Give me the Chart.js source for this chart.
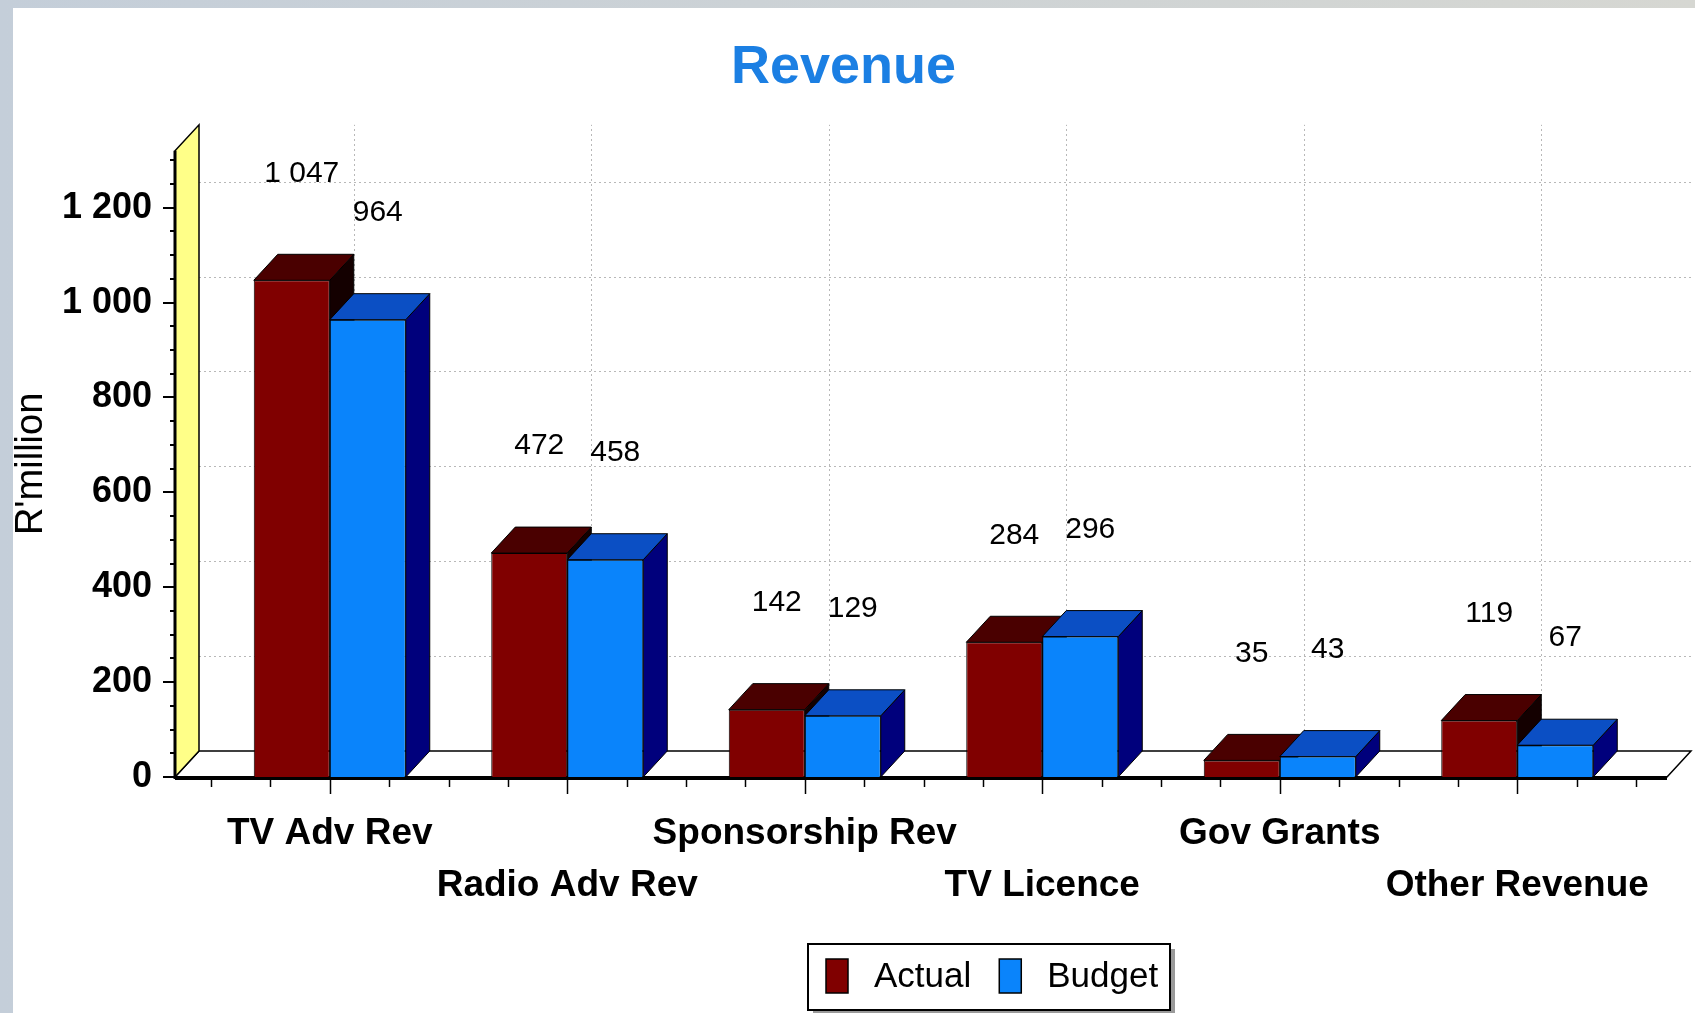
<!DOCTYPE html>
<html>
<head>
<meta charset="utf-8">
<script src="https://cdn.jsdelivr.net/npm/chart.js@4"></script>
<style>
  html, body { margin: 0; padding: 0; width: 1695px; height: 1013px; overflow: hidden; }
  body { background: linear-gradient(to right, #c4ced9, #d6d7d2); }
  #wrap { position: absolute; left: 13px; top: 8px; width: 1682px; height: 1005px; background: #fff; }
</style>
</head>
<body>
<div id="wrap"><canvas id="myChart"></canvas></div>
<script>
// data
const categories = ['TV Adv Rev', 'Radio Adv Rev', 'Sponsorship Rev', 'TV Licence', 'Gov Grants', 'Other Revenue'];
const seriesNames = ['Actual', 'Budget'];
const actual = [1047, 472, 142, 284, 35, 119];
const budget = [964, 458, 129, 296, 43, 67];
const yTicks = [0, 200, 400, 600, 800, 1000, 1200];

const FONT = "'Liberation Sans', Arial, sans-serif";
const DX = 24, DY = 26; // depth of the 3D look

// front, top, side colours per series
const faces = [
    { front: '#800000', top: '#4a0000', side: '#140000' },
    { front: '#0a84fb', top: '#0b4fc4', side: '#00007c' }
];

function fmt(v) {
    return String(v).replace(/\B(?=(\d{3})+(?!\d))/g, ' ');
}

function poly(ctx, pts, fill) {
    ctx.beginPath();
    ctx.moveTo(pts[0][0], pts[0][1]);
    for (let i = 1; i < pts.length; i++) ctx.lineTo(pts[i][0], pts[i][1]);
    ctx.closePath();
    ctx.fillStyle = fill;
    ctx.fill();
    ctx.stroke();
}

const box3d = {
    id: 'box3d',
    beforeDatasetsDraw(chart) {
        const ctx = chart.ctx;
        const xs = chart.scales.x, ys = chart.scales.y;
        const area = chart.chartArea;
        const y0 = ys.getPixelForValue(0);
        const yTop = ys.top;
        const left = area.left - 36;   // front edge of the walls
        const right = area.right + 31;
        ctx.save();

        // dotted grid on the back
        ctx.strokeStyle = '#b8b8b8';
        ctx.lineWidth = 1;
        ctx.setLineDash([2, 3]);
        yTicks.forEach(v => {
            if (v === 0) return;
            const py = Math.round(ys.getPixelForValue(v) - DY) + 0.5;
            ctx.beginPath();
            ctx.moveTo(left + DX, py);
            ctx.lineTo(right + DX, py);
            ctx.stroke();
        });
        categories.forEach((c, i) => {
            const px = Math.round(xs.getPixelForValue(i) + DX) + 0.5;
            ctx.beginPath();
            ctx.moveTo(px, y0 - DY);
            ctx.lineTo(px, yTop - DY);
            ctx.stroke();
        });
        ctx.setLineDash([]);

        // floor
        ctx.strokeStyle = '#000';
        ctx.lineWidth = 1.5;
        poly(ctx, [[left, y0], [right, y0], [right + DX, y0 - DY], [left + DX, y0 - DY]], '#fff');
        // left wall
        poly(ctx, [[left, y0], [left + DX, y0 - DY], [left + DX, yTop - DY], [left, yTop]], '#ffff88');

        // thick axis lines
        ctx.lineWidth = 4;
        ctx.beginPath();
        ctx.moveTo(left, y0 + 1);
        ctx.lineTo(right, y0 + 1);
        ctx.stroke();
        ctx.lineWidth = 3;
        ctx.beginPath();
        ctx.moveTo(left, yTop);
        ctx.lineTo(left, y0 + 2);
        ctx.stroke();

        // y tick marks, minor every 50
        ctx.lineWidth = 2;
        for (let v = 0; v <= ys.max; v += 50) {
            const py = Math.round(ys.getPixelForValue(v));
            const len = v % 200 === 0 ? 12 : 5;
            ctx.beginPath();
            ctx.moveTo(left - len, py);
            ctx.lineTo(left, py);
            ctx.stroke();
        }

        // x tick marks, quarter steps, long at the category centres
        const step = (xs.getPixelForValue(1) - xs.getPixelForValue(0)) / 4;
        ctx.lineWidth = 1.5;
        for (let k = -2; k <= categories.length * 4 - 2; k++) {
            const px = Math.round(xs.getPixelForValue(0) + k * step) + 0.5;
            const len = k % 4 === 0 ? 14 : 7;
            ctx.beginPath();
            ctx.moveTo(px, y0 + 3);
            ctx.lineTo(px, y0 + 3 + len);
            ctx.stroke();
        }

        // top and side faces, left bar before right bar
        ctx.lineWidth = 1;
        for (let i = 0; i < categories.length; i++) {
            chart.data.datasets.forEach((ds, d) => {
                const bar = chart.getDatasetMeta(d).data[i];
                const f = faces[d];
                const l = bar.x - bar.width / 2, r = bar.x + bar.width / 2;
                poly(ctx, [[r, bar.y], [r + DX, bar.y - DY], [r + DX, bar.base - DY], [r, bar.base]], f.side);
                poly(ctx, [[l, bar.y], [r, bar.y], [r + DX, bar.y - DY], [l + DX, bar.y - DY]], f.top);
            });
        }
        ctx.restore();
    },
    afterDatasetsDraw(chart) {
        const ctx = chart.ctx;
        ctx.save();
        // value labels
        ctx.fillStyle = '#000';
        ctx.font = '30px ' + FONT;
        ctx.textAlign = 'center';
        ctx.textBaseline = 'middle';
        chart.data.datasets.forEach((ds, d) => {
            chart.getDatasetMeta(d).data.forEach((bar, i) => {
                ctx.fillText(fmt(ds.data[i]), bar.x + 10, bar.y - 107);
            });
        });

        // legend box
        const bx = 795, by = 936, bw = 362, bh = 66;
        ctx.fillStyle = '#9a9a9a';
        ctx.fillRect(bx + 5, by + 5, bw, bh);
        ctx.fillStyle = '#fff';
        ctx.fillRect(bx, by, bw, bh);
        ctx.strokeStyle = '#000';
        ctx.lineWidth = 2;
        ctx.strokeRect(bx, by, bw, bh);
        ctx.font = '35px ' + FONT;
        ctx.textAlign = 'left';
        let cx = bx + 18;
        chart.data.datasets.forEach((ds, d) => {
            ctx.fillStyle = faces[d].front;
            ctx.fillRect(cx, by + 15, 22, 34);
            ctx.lineWidth = 1.5;
            ctx.strokeRect(cx, by + 15, 22, 34);
            ctx.fillStyle = '#000';
            ctx.fillText(ds.label, cx + 48, by + 33);
            cx += 48 + ctx.measureText(ds.label).width + 28;
        });
        ctx.restore();
    }
};

const ctx = document.getElementById('myChart').getContext('2d');
const myChart = new Chart(ctx, {
    type: 'bar',
    data: {
        labels: categories,
        datasets: [
            {
                label: seriesNames[0],
                data: actual,
                backgroundColor: faces[0].front,
                borderColor: '#000',
                borderWidth: 1
            },
            {
                label: seriesNames[1],
                data: budget,
                backgroundColor: faces[1].front,
                borderColor: '#000',
                borderWidth: 1
            }
        ]
    },
    options: {
        responsive: true,
        maintainAspectRatio: false,
        animation: false,
        barPercentage: 1,
        categoryPercentage: 0.64,
        layout: { padding: { left: 38, right: 59, top: 0, bottom: 0 } },
        plugins: {
            legend: { display: false },
            tooltip: { enabled: false },
            title: {
                display: true,
                text: 'Revenue',
                color: '#1b7fe3',
                font: { family: FONT, size: 54, weight: 'bold' },
                padding: { top: 28, bottom: 50 }
            }
        },
        scales: {
            x: {
                grid: { display: false, drawTicks: false },
                border: { display: false },
                ticks: {
                    color: '#000',
                    font: { family: FONT, size: 37, weight: 'bold', lineHeight: 1.4 },
                    padding: 31,
                    maxRotation: 0,
                    minRotation: 0,
                    autoSkip: false,
                    // every second label goes on a lower row
                    callback: (v, i) => i % 2 ? ['', categories[i]] : categories[i]
                },
                afterFit: s => { s.height = 236; }
            },
            y: {
                min: 0,
                max: 1320,
                grid: { display: false, drawTicks: false },
                border: { display: false },
                afterBuildTicks: s => { s.ticks = yTicks.map(v => ({ value: v })); },
                ticks: {
                    color: '#000',
                    font: { family: FONT, size: 36, weight: 'bold' },
                    padding: 59,
                    callback: v => fmt(v)
                },
                title: {
                    display: true,
                    text: "R'million",
                    color: '#000',
                    font: { family: FONT, size: 38, lineHeight: 1 },
                    padding: { top: -38, bottom: 0 }
                },
                afterFit: s => { s.width = 160; }
            }
        }
    },
    plugins: [box3d]
});
</script>
</body>
</html>
